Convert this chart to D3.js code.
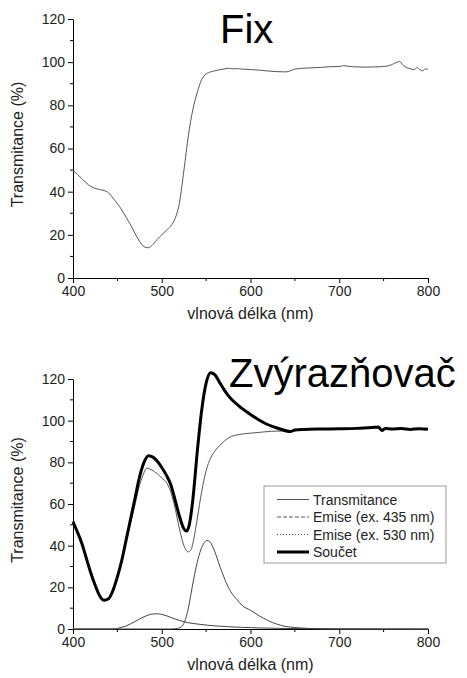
<!DOCTYPE html>
<html>
<head>
<meta charset="utf-8">
<script src="https://cdn.jsdelivr.net/npm/d3@7"></script>
<style>
    body { margin: 0; background: #fff; }
    svg text { font-family: Arial, "Liberation Sans", sans-serif; }
</style>
</head>
<body>
<div id="chart"></div>
<script>

// ---- data ----

// top panel "Fix"
let fixWl = [400, 405, 410, 415, 420, 425, 430, 435, 440, 445, 450, 455, 460, 465, 470, 475, 480, 485, 490, 495,
    500, 505, 510, 515, 520, 525, 530, 535, 540, 545, 550, 555, 560, 565, 570, 575, 580, 585, 590, 595,
    600, 610, 620, 630, 640, 645, 650, 660, 670, 680, 690, 700, 705, 710, 720, 730, 740, 750, 755, 760,
    765, 768, 772, 776, 780, 784, 788, 790, 794, 797, 800];
let fixT = [49.8, 48, 46, 44, 42.5, 41.5, 41, 40.5, 39.5, 37, 34.5, 31.5, 28, 24.5, 20.5, 17, 14.5, 14, 15.5, 18,
    20, 22, 24, 27.5, 35, 50, 66, 78, 86, 92, 94.5, 95.5, 96, 96.5, 96.8, 97.2, 96.9, 97, 96.8, 96.7,
    96.6, 96.3, 95.9, 95.6, 95.5, 96, 96.8, 97.2, 97.4, 97.6, 97.9, 98, 98.4, 98.1, 97.8, 97.7, 97.8, 98, 98.3, 99,
    100, 100.3, 98.5, 97.5, 97, 96.5, 97.5, 96.8, 96, 96.9, 96.7];

// bottom panel "Zvýrazňovač"
let transWl = [400, 405, 410, 415, 420, 425, 430, 435, 440, 445, 450, 455, 460, 465, 470, 475, 480, 483, 488, 495,
    500, 505, 510, 515, 520, 525, 530, 533, 536, 540, 545, 550, 555, 560, 565, 570, 577, 585, 600, 615,
    630, 645, 650, 660, 680, 700, 720, 740, 744, 748, 752, 760, 770, 780, 790, 800];
let transT = [51.5, 46.5, 41, 34, 27, 21, 16, 13.8, 14.5, 18.5, 24.8, 32.5, 42, 51, 60, 69, 75, 77.2, 76.5, 74.5,
    72.5, 70.5, 66, 58, 48, 40, 37, 38, 43, 53, 66, 76, 82, 85.5, 88, 90, 92.2, 93.2, 94, 94.6,
    95, 95, 95.5, 95.8, 96, 96.1, 96.3, 96.8, 97, 95.3, 96.2, 96, 96.2, 95.8, 96.1, 95.9];

let em435Wl = [400, 445, 450, 455, 460, 465, 470, 475, 480, 485, 490, 495, 500, 505, 510, 515, 520, 525, 530, 540,
    550, 560, 575, 590, 610, 640, 680, 720, 800];
let em435 = [0, 0, 0.3, 0.8, 1.5, 2.5, 3.6, 4.8, 5.9, 6.7, 7.2, 7.3, 7, 6.4, 5.6, 4.8, 4.1, 3.5, 3, 2.4,
    1.9, 1.5, 1.1, 0.8, 0.5, 0.25, 0.1, 0.05, 0];

let em530Wl = [400, 510, 515, 520, 524, 527, 530, 533, 536, 540, 544, 548, 551, 554, 558, 562, 566, 570, 575, 580,
    585, 590, 600, 610, 620, 630, 640, 650, 665, 680, 700, 800];
let em530 = [0, 0, 0.1, 0.6, 2, 5, 10, 17, 24, 32, 38, 41.5, 42.5, 42, 39, 34.5, 29.5, 25, 20, 16.5,
    14, 11.5, 9, 6.3, 4, 2.3, 1.2, 0.7, 0.3, 0.1, 0, 0];

let sumWl = [400, 405, 410, 415, 420, 425, 430, 435, 440, 445, 450, 455, 460, 465, 470, 475, 480, 485, 490, 495,
    500, 505, 510, 515, 520, 525, 528, 531, 535, 540, 545, 550, 555, 560, 565, 570, 575, 590, 600, 615,
    630, 645, 650, 660, 680, 700, 720, 740, 744, 748, 752, 760, 770, 780, 790, 800];
let sumT = [51.5, 46.5, 41, 34, 27, 21, 16, 13.8, 14.5, 18.5, 25, 33, 43, 53, 63, 73, 80, 83.2, 82.5, 80.5,
    77.5, 74, 69.5, 62, 54, 48, 47, 50, 62, 85, 105, 118, 123, 122, 118.5, 115, 112, 106, 103, 99,
    96.5, 94.8, 95.5, 95.8, 96, 96.1, 96.3, 96.8, 97, 95.3, 96.2, 96, 96.2, 95.8, 96.1, 95.9];

let xTicks = [400, 500, 600, 700, 800];
let xMinor = [450, 550, 650, 750];
let yTicks = [0, 20, 40, 60, 80, 100, 120];
let yMinor = [10, 30, 50, 70, 90, 110];

let legendNames = ["Transmitance", "Emise (ex. 435 nm)", "Emise (ex. 530 nm)", "Součet"];

// ---- drawing ----

let svg = d3.select("#chart").append("svg")
    .attr("width", 467)
    .attr("height", 678);

function zip(xs, ys) {
    return xs.map((x, i) => ({x: x, y: ys[i]}));
}

// draws one panel with axes, returns scales
function drawPanel(box, title, titleX, titleY) {
    let x = d3.scaleLinear().domain([400, 800]).range([box.left, box.right]);
    let y = d3.scaleLinear().domain([0, 120]).range([box.bottom, box.top]);

    let g = svg.append("g");

    // x axis, major + minor ticks
    let xAxis = g.append("g")
        .attr("transform", `translate(0, ${box.bottom})`)
        .call(d3.axisBottom(x).tickValues(xTicks).tickSize(5).tickSizeOuter(0).tickPadding(3));
    xAxis.selectAll(".minor")
        .data(xMinor)
        .enter().append("line")
        .attr("x1", d => x(d)).attr("x2", d => x(d))
        .attr("y1", 0).attr("y2", 3)
        .attr("stroke", "#000");

    let yAxis = g.append("g")
        .attr("transform", `translate(${box.left}, 0)`)
        .call(d3.axisLeft(y).tickValues(yTicks).tickSize(5).tickSizeOuter(0).tickPadding(3));
    yAxis.selectAll(".minor")
        .data(yMinor)
        .enter().append("line")
        .attr("x1", 0).attr("x2", -3)
        .attr("y1", d => y(d)).attr("y2", d => y(d))
        .attr("stroke", "#000");

    g.selectAll(".tick text")
        .attr("font-size", 14)
        .attr("fill", "#222")
        .attr("font-family", "Arial, 'Liberation Sans', sans-serif");
    g.selectAll(".domain").attr("stroke", "#000");

    // axis titles
    g.append("text")
        .attr("x", (box.left + box.right) / 2)
        .attr("y", box.bottom + 41)
        .attr("text-anchor", "middle")
        .attr("font-size", 16)
        .attr("fill", "#222")
        .text("vlnová délka (nm)");

    g.append("text")
        .attr("transform", `translate(23, ${(box.top + box.bottom) / 2 - 4}) rotate(-90)`)
        .attr("text-anchor", "middle")
        .attr("font-size", 16)
        .attr("fill", "#222")
        .text("Transmitance (%)");

    // big title
    g.append("text")
        .attr("x", titleX)
        .attr("y", titleY)
        .attr("font-size", 40)
        .attr("fill", "#000")
        .text(title);

    return {x: x, y: y, g: g};
}

function drawLine(panel, data, color, width) {
    let line = d3.line()
        .x(d => panel.x(d.x))
        .y(d => panel.y(d.y))
        .curve(d3.curveMonotoneX);
    panel.g.append("path")
        .datum(data)
        .attr("d", line)
        .attr("fill", "none")
        .attr("stroke", color)
        .attr("stroke-width", width)
        .attr("stroke-linejoin", "round");
}

// top panel
let fixPanel = drawPanel({left: 73, right: 428, top: 19, bottom: 278}, "Fix", 220, 43);
drawLine(fixPanel, zip(fixWl, fixT), "#555", 1);

// bottom panel
let zvPanel = drawPanel({left: 73, right: 428, top: 379, bottom: 629}, "Zvýrazňovač", 229, 387);
drawLine(zvPanel, zip(em435Wl, em435), "#444", 1);
drawLine(zvPanel, zip(em530Wl, em530), "#444", 1);
drawLine(zvPanel, zip(transWl, transT), "#555", 1);
drawLine(zvPanel, zip(sumWl, sumT), "#000", 3);

// legend
let legend = svg.append("g").attr("transform", "translate(264, 486)");
legend.append("rect")
    .attr("width", 182).attr("height", 77)
    .attr("fill", "#fff")
    .attr("stroke", "#999");

let legendStyles = [
    {color: "#555", width: 1, dash: null},
    {color: "#555", width: 1, dash: "4,2"},
    {color: "#555", width: 1, dash: "1,2"},
    {color: "#000", width: 3, dash: null}
];

legendNames.forEach((name, i) => {
    let yy = 13.5 + i * 17.5;
    legend.append("line")
        .attr("x1", 13).attr("x2", 45)
        .attr("y1", yy).attr("y2", yy)
        .attr("stroke", legendStyles[i].color)
        .attr("stroke-width", legendStyles[i].width)
        .attr("stroke-dasharray", legendStyles[i].dash);
    legend.append("text")
        .attr("x", 49)
        .attr("y", yy + 5)
        .attr("font-size", 14)
        .attr("fill", "#222")
        .text(name);
});

</script>
</body>
</html>
